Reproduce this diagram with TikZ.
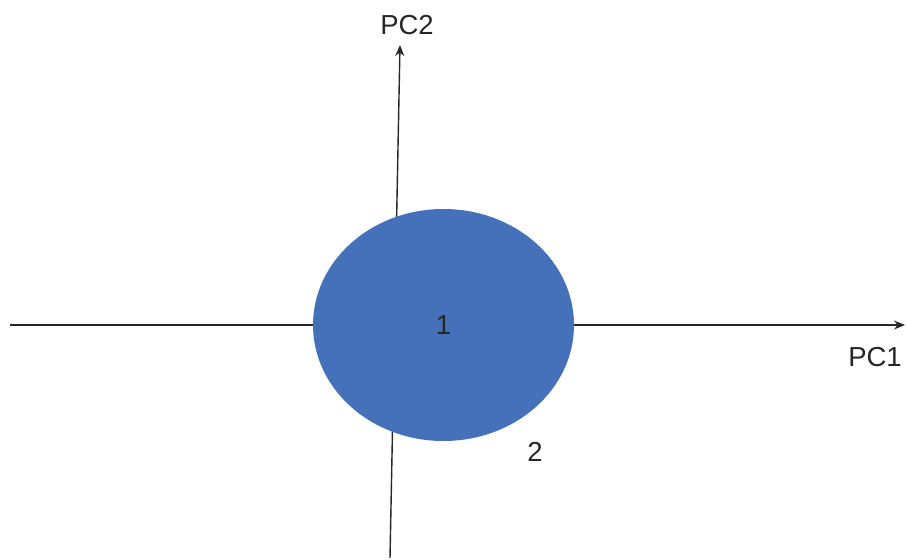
\documentclass[tikz,border=0pt]{standalone}
\usepackage{fontspec}
\setmainfont{Liberation Sans}
\usetikzlibrary{arrows.meta, shapes.geometric}
\definecolor{pcblue}{RGB}{68,113,185}

\begin{document}
\begin{tikzpicture}[
    x=1pt, y=-1pt,
    axis/.style={line width=1.4pt, draw=black!85},
    blob/.style={ellipse, fill=pcblue, inner sep=0pt, minimum width=261pt, minimum height=232pt},
    lbl/.style={font=\fontsize{27.5}{32}\selectfont, text=black!85},
    >={Stealth[length=11pt, width=9pt]}
]
    \useasboundingbox (0, 0) rectangle (906, 560);

    % 坐标轴端点
    \coordinate (L) at (10, 325);   % 横轴左端
    \coordinate (R) at (905, 325);  % 横轴右端
    \coordinate (B) at (390, 558);  % 纵轴下端
    \coordinate (T) at (400, 45);   % 纵轴上端

    % 1. 两条坐标轴
    \draw[axis, ->] (L) -- (R);
    \draw[axis, ->] (B) -- (T);

    % 2. 蓝色椭圆及其标签
    \node[blob, lbl] (C1) at (443.5, 325) {1};
    \node[lbl] (C2) at (535, 452) {2};

    % 3. 轴标签
    \node[lbl] (PC1) at (875, 357) {PC1};
    \node[lbl] (PC2) at (407, 25) {PC2};

\end{tikzpicture}
\end{document}
